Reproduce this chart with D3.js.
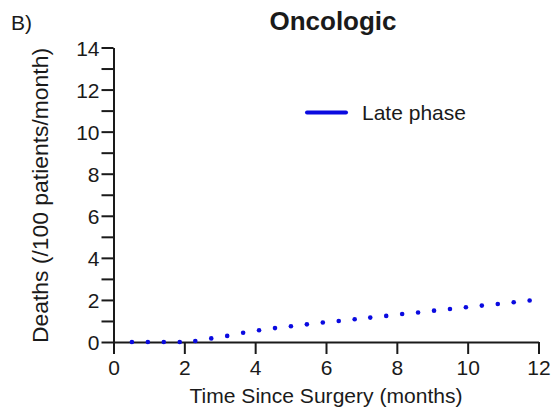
<!DOCTYPE html>
<html>
<head>
<meta charset="utf-8">
<script src="https://cdn.jsdelivr.net/npm/d3@7"></script>
<style>
  html, body { margin: 0; padding: 0; background: #fff; }
  svg { display: block; font-family: "Liberation Sans", Arial, sans-serif; }
</style>
</head>
<body>
<svg id="chart" width="555" height="416"></svg>
<script>
// ---- data ----
const months = [0.52, 0.97, 1.42, 1.87, 2.31, 2.76, 3.21, 3.66, 4.11, 4.56, 5.01, 5.46, 5.91,
                6.36, 6.81, 7.25, 7.70, 8.15, 8.60, 9.05, 9.50, 9.95, 10.40, 10.85, 11.30, 11.75];
const latePhase = [0.0, 0.0, 0.0, 0.0, 0.05, 0.17, 0.29, 0.44, 0.56, 0.66, 0.75, 0.84, 0.93,
                   1.0, 1.08, 1.16, 1.24, 1.33, 1.40, 1.49, 1.57, 1.65, 1.73, 1.81, 1.89, 1.97];
const xTicks = [0, 2, 4, 6, 8, 10, 12];
const yTicks = [0, 2, 4, 6, 8, 10, 12, 14];
const yMinorTicks = [1, 3, 5, 7, 9, 11, 13];
const seriesName = "Late phase";
const title = "Oncologic";
const panelLabel = "B)";
const xTitle = "Time Since Surgery (months)";
const yTitle = "Deaths (/100 patients/month)";

// ---- layout ----
const svg = d3.select("#chart");
const mLeft = 113.5, mRight = 538.5, mTop = 47.5, mBottom = 342;
const x = d3.scaleLinear().domain([0, 12]).range([mLeft, mRight]);
const y = d3.scaleLinear().domain([0, 14]).range([mBottom, mTop]);
const blue = "#0a0ae0";
const ink = "#1a1a1a";

// x axis
const xAxis = svg.append("g").attr("transform", `translate(0,${mBottom})`)
  .call(d3.axisBottom(x).tickValues(xTicks).tickSize(12).tickSizeOuter(0).tickPadding(6));
// y axis major
const yAxis = svg.append("g").attr("transform", `translate(${mLeft},0)`)
  .call(d3.axisLeft(y).tickValues(yTicks).tickSize(12).tickSizeOuter(0).tickPadding(2));
// y minor ticks
svg.append("g").attr("transform", `translate(${mLeft},0)`)
  .call(d3.axisLeft(y).tickValues(yMinorTicks).tickSize(12).tickSizeOuter(0).tickFormat(""))
  .select(".domain").remove();

svg.selectAll(".domain").attr("stroke", ink).attr("stroke-width", 2);
svg.selectAll(".tick line").attr("stroke", ink).attr("stroke-width", 2);
svg.selectAll(".tick text").attr("fill", ink).style("font-size", "21px")
  .style("font-family", "'Liberation Sans', Arial, sans-serif");
yAxis.selectAll(".tick text").attr("dy", "0.36em");

// data points
svg.append("g").selectAll("circle")
  .data(months.map((m, i) => [m, latePhase[i]]))
  .join("circle")
  .attr("cx", d => x(d[0]))
  .attr("cy", d => y(d[1]))
  .attr("r", 2.3)
  .attr("fill", blue);

// title
svg.append("text").attr("x", 333).attr("y", 30).attr("text-anchor", "middle")
  .style("font-size", "26px").style("font-weight", "bold").attr("fill", ink).text(title);
// panel label
svg.append("text").attr("x", 11).attr("y", 30)
  .style("font-size", "21px").attr("fill", ink).text(panelLabel);
// axis titles
svg.append("text").attr("x", x(6)).attr("y", 403).attr("text-anchor", "middle")
  .attr("textLength", 273).attr("lengthAdjust", "spacingAndGlyphs")
  .style("font-size", "21px").attr("fill", ink).text(xTitle);
svg.append("text").attr("transform", `translate(48,195.5) rotate(-90)`)
  .attr("text-anchor", "middle")
  .attr("textLength", 295).attr("lengthAdjust", "spacingAndGlyphs")
  .style("font-size", "21.5px").attr("fill", ink).text(yTitle);

// legend
svg.append("line").attr("x1", 307).attr("x2", 346).attr("y1", 112.5).attr("y2", 112.5)
  .attr("stroke", blue).attr("stroke-width", 4).attr("stroke-linecap", "round");
svg.append("text").attr("x", 362).attr("y", 120)
  .style("font-size", "21px").attr("fill", ink).text(seriesName);
</script>
</body>
</html>
